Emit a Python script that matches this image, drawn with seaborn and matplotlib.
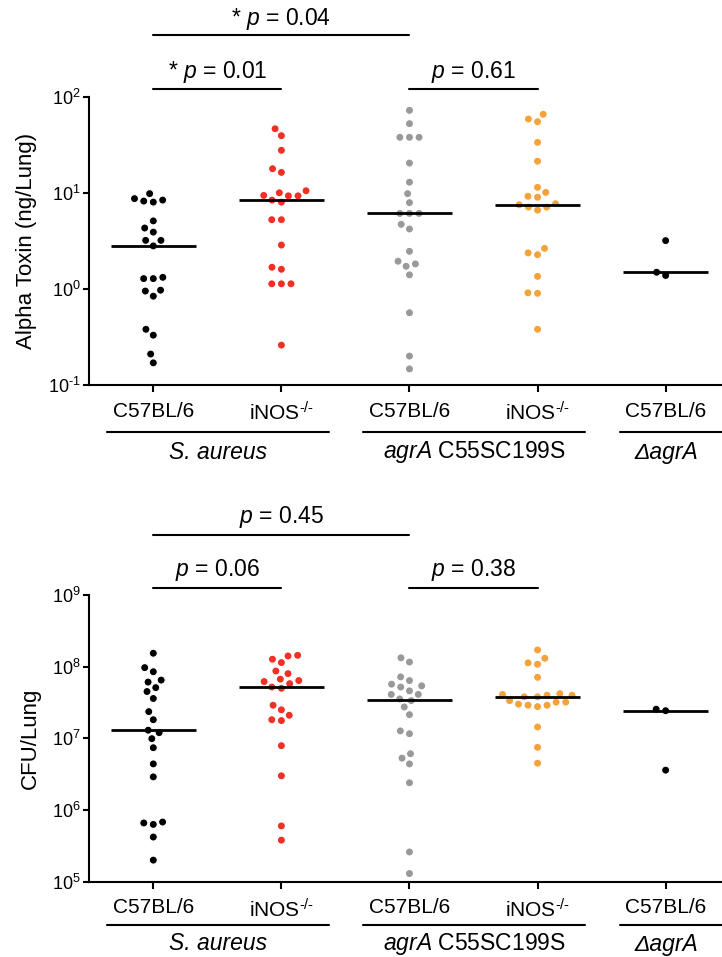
import numpy as np
import pandas as pd
import seaborn as sns
import matplotlib
matplotlib.use("Agg")
import matplotlib.pyplot as plt
from matplotlib.ticker import FixedLocator, NullLocator

# ---------------- data ----------------
groups = ["SA_B6", "SA_iNOS", "agr_B6", "agr_iNOS", "dagr_B6"]
tick_labels = ["C57BL/6", r"iNOS$^{\text{-/-}}$", "C57BL/6", r"iNOS$^{\text{-/-}}$", "C57BL/6"]
colors = ["#000000", "#EE3124", "#999999", "#F4A23A", "#000000"]

toxin_sa_b6 = [9.8, 8.7, 8.4, 8.2, 8.0, 5.1, 4.3, 3.9, 3.2, 3.2, 2.8, 1.32, 1.28, 1.28,
               0.97, 0.95, 0.84, 0.38, 0.33, 0.21, 0.17]
toxin_sa_inos = [46.4, 39.3, 27.7, 17.8, 16.3, 10.5, 10.0, 9.4, 9.3, 9.3, 8.4, 8.0, 5.25, 5.25,
                 2.86, 1.68, 1.6, 1.13, 1.13, 1.13, 0.26]
toxin_agr_b6 = [72.1, 52.4, 37.8, 37.8, 37.8, 20.4, 12.9, 9.8, 7.9, 6.1, 6.1, 6.1, 4.7, 4.2,
                2.46, 1.94, 1.82, 1.72, 1.40, 0.565, 0.2, 0.147]
toxin_agr_inos = [65.6, 58.6, 54.9, 33.5, 21.3, 11.4, 10.1, 9.2, 9.0, 7.7, 7.5, 7.1, 7.1, 6.6,
                  2.64, 2.37, 2.27, 1.35, 0.91, 0.90, 0.38]
toxin_dagr_b6 = [3.18, 1.49, 1.38]

cfu_sa_b6 = [1.54e8, 9.7e7, 8.5e7, 6.5e7, 6.1e7, 5.1e7, 4.5e7, 3.6e7, 2.36e7, 1.82e7, 1.3e7,
             1.2e7, 9.9e6, 7.4e6, 4.4e6, 2.9e6, 6.8e5, 6.6e5, 6.3e5, 4.2e5, 2.0e5]
cfu_sa_inos = [1.44e8, 1.41e8, 1.27e8, 1.14e8, 8.7e7, 8.0e7, 6.7e7, 6.4e7, 6.2e7, 5.8e7, 5.2e7,
               5.0e7, 2.9e7, 2.5e7, 2.1e7, 1.82e7, 1.77e7, 7.9e6, 3.0e6, 6.0e5, 3.8e5]
cfu_agr_b6 = [1.33e8, 1.16e8, 7.2e7, 6.4e7, 5.7e7, 5.4e7, 5.2e7, 4.6e7, 4.1e7, 4.1e7, 3.55e7,
              3.36e7, 2.74e7, 2.14e7, 1.27e7, 1.16e7, 6.1e6, 5.3e6, 4.4e6, 2.4e6, 2.6e5, 1.3e5]
cfu_agr_inos = [1.71e8, 1.31e8, 1.13e8, 1.08e8, 7.1e7, 4.2e7, 4.1e7, 4.0e7, 4.0e7, 3.8e7, 3.8e7,
                3.36e7, 3.2e7, 3.2e7, 3.0e7, 2.9e7, 2.9e7, 2.77e7, 1.44e7, 7.5e6, 4.5e6]
cfu_dagr_b6 = [2.55e7, 2.43e7, 3.6e6]

strain_names = ["S. aureus", r"$\mathit{agrA}$ C55SC199S", "ΔagrA"]
strain_spans = [(0, 1), (2, 3), (4, 4)]

top_pvals = [r"* $\mathit{p}$ = 0.04", r"* $\mathit{p}$ = 0.01", r"$\mathit{p}$ = 0.61"]
bot_pvals = [r"$\mathit{p}$ = 0.45", r"$\mathit{p}$ = 0.06", r"$\mathit{p}$ = 0.38"]
pval_pairs = [(0, 2), (0, 1), (2, 3)]

top_yticks = [0.1, 1, 10, 100]
top_ylabels = [r"10$^{\text{-1}}$", r"10$^{0}$", r"10$^{1}$", r"10$^{2}$"]
bot_yticks = [1e5, 1e6, 1e7, 1e8, 1e9]
bot_ylabels = [r"10$^{5}$", r"10$^{6}$", r"10$^{7}$", r"10$^{8}$", r"10$^{9}$"]

# ---------------- style ----------------
sns.set_style("ticks")
plt.rcParams["font.family"] = ["Liberation Sans", "DejaVu Sans"]
plt.rcParams["mathtext.fontset"] = "custom"
plt.rcParams["mathtext.rm"] = "Liberation Sans"
plt.rcParams["mathtext.it"] = "Liberation Sans:italic"
plt.rcParams["mathtext.default"] = "regular"
plt.rcParams["axes.linewidth"] = 1.5
for k in ["text.color", "axes.labelcolor", "xtick.color", "ytick.color", "axes.edgecolor"]:
    plt.rcParams[k] = "black"


def make_df(arrs):
    rows = []
    for g, a in zip(groups, arrs):
        for v in a:
            rows.append((g, v))
    return pd.DataFrame(rows, columns=["group", "value"])


df_top = make_df([toxin_sa_b6, toxin_sa_inos, toxin_agr_b6, toxin_agr_inos, toxin_dagr_b6])
df_bot = make_df([cfu_sa_b6, cfu_sa_inos, cfu_agr_b6, cfu_agr_inos, cfu_dagr_b6])

W, H = 722, 957
fig = plt.figure(figsize=(W / 100, H / 100), dpi=100)
left = 89 / W
ax1 = fig.add_axes([left, 1 - 385 / H, 1 - left, (385 - 96.7) / H])
ax2 = fig.add_axes([left, 1 - 881.7 / H, 1 - left, (881.7 - 595) / H])

palette = dict(zip(groups, colors))


def draw(ax, df, yticks, ylabels, ylim, ylabel, pvals, y_line, y_name, p_levels):
    ax.set_yscale("log")
    ax.set_ylim(*ylim)
    sns.swarmplot(data=df, x="group", y="value", hue="group", order=groups,
                  palette=palette, size=5.8, linewidth=0.8, edgecolor="white",
                  legend=False, ax=ax, zorder=3, warn_thresh=1)
    sns.boxplot(data=df, x="group", y="value", order=groups, ax=ax, width=0.66,
                showbox=False, showcaps=False, showfliers=False,
                whiskerprops={"visible": False},
                medianprops={"color": "black", "linewidth": 2.0, "zorder": 6})
    ax.set_ylim(*ylim)
    ax.set_xlim(-0.502, 4.44)
    ax.yaxis.set_major_locator(FixedLocator(yticks))
    ax.yaxis.set_minor_locator(NullLocator())
    ax.set_yticklabels(ylabels, fontsize=13)
    ax.set_xticks(range(len(groups)))
    ax.set_xticklabels(tick_labels, fontsize=15)
    ax.tick_params(axis="x", length=5, width=1.5, pad=7, color="black", labelcolor="black")
    ax.tick_params(axis="y", length=4, width=1.5, pad=2, color="black", labelcolor="black")
    ax.set_xlabel("")
    ax.set_ylabel(ylabel, fontsize=16, labelpad=8, color="black")
    for s in ["top", "right"]:
        ax.spines[s].set_visible(False)
    for s in ["left", "bottom"]:
        ax.spines[s].set_linewidth(1.5)
        ax.spines[s].set_color("black")

    tr = ax.get_xaxis_transform()
    for name, (a, b) in zip(strain_names, strain_spans):
        x0, x1 = a - 0.36, b + 0.37
        if b == 4:
            x1 = 4.6
        ax.plot([x0, x1], [y_line, y_line], color="black", lw=1.5, transform=tr,
                clip_on=False)
        cx = (a + b) / 2 + 0.005
        style = "italic" if name in ("S. aureus", "ΔagrA") else "normal"
        ax.text(cx, y_name, name, transform=tr, ha="center", va="center",
                fontsize=16.5, style=style, color="black")
    for txt, (a, b), (yl, yt) in zip(pvals, pval_pairs, p_levels):
        ax.plot([a, b], [yl, yl], color="black", lw=1.5, transform=tr, clip_on=False)
        ax.text((a + b) / 2, yt, txt, transform=tr, ha="center", va="center",
                fontsize=16.5, color="black")


hp1 = 385 - 96.7
draw(ax1, df_top, top_yticks, top_ylabels, (0.1, 100), "Alpha Toxin (ng/Lung)",
     top_pvals, (385 - 432) / hp1, (385 - 452) / hp1,
     [((385 - 35) / hp1, (385 - 19) / hp1),
      ((385 - 89) / hp1, (385 - 72) / hp1),
      ((385 - 89) / hp1, (385 - 72) / hp1)])
hp2 = 881.7 - 595
draw(ax2, df_bot, bot_yticks, bot_ylabels, (1e5, 1e9), "CFU/Lung",
     bot_pvals, (881.7 - 925) / hp2, (881.7 - 944) / hp2,
     [((881.7 - 535) / hp2, (881.7 - 517) / hp2),
      ((881.7 - 588) / hp2, (881.7 - 570) / hp2),
      ((881.7 - 588) / hp2, (881.7 - 570) / hp2)])

fig.savefig("out.png", dpi=100)
